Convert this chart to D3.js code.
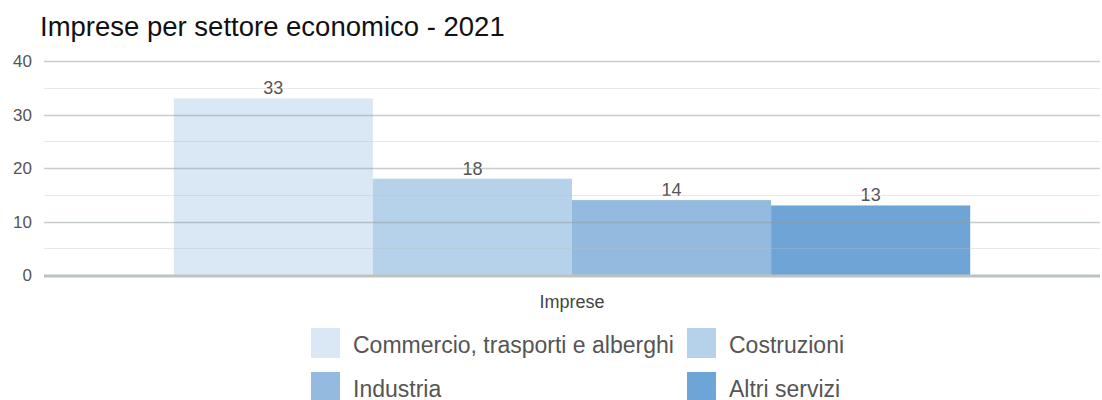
<!DOCTYPE html>
<html>
<head>
<meta charset="utf-8">
<script src="https://cdn.jsdelivr.net/npm/d3@7"></script>
<style>
  body { margin: 0; background: #fff; }
  svg { display: block; font-family: "Liberation Sans", Arial, sans-serif; }
</style>
</head>
<body>
<div id="chart"></div>
<script>
var title = "Imprese per settore economico - 2021";
var category = "Imprese";
var series = ["Commercio, trasporti e alberghi", "Costruzioni", "Industria", "Altri servizi"];
var values = [33, 18, 14, 13];
var colors = ["#dae7f4", "#b6d1ea", "#94badf", "#6fa4d6"];
var yTicks = [0, 10, 20, 30, 40];
var yMinor = [5, 15, 25, 35];

var width = 1102, height = 400;
var marginLeft = 44, marginRight = 2, marginTop = 61, plotBottom = 275;

var svg = d3.select("#chart").append("svg")
    .attr("width", width)
    .attr("height", height);

svg.append("text")
    .attr("x", 40)
    .attr("y", 36)
    .attr("font-size", "27.5px")
    .attr("fill", "#111")
    .text(title);

var y = d3.scaleLinear()
    .domain([0, 40])
    .range([plotBottom, marginTop]);

var xOuter = d3.scaleBand()
    .domain([category])
    .range([marginLeft, width - marginRight])
    .paddingInner(0)
    .paddingOuter(0.163);

var xInner = d3.scaleBand()
    .domain(series)
    .range([0, xOuter.bandwidth()]);

// bars
var g = svg.append("g").attr("transform", "translate(" + xOuter(category) + ",0)");
g.selectAll("rect")
    .data(values)
    .enter()
    .append("rect")
    .attr("x", function(d, i) { return xInner(series[i]); })
    .attr("y", function(d) { return y(d); })
    .attr("width", xInner.bandwidth())
    .attr("height", function(d) { return plotBottom - y(d); })
    .attr("fill", function(d, i) { return colors[i]; });

// gridlines drawn on top, semi transparent
svg.append("g").selectAll("line.minor")
    .data(yMinor)
    .enter()
    .append("line")
    .attr("x1", marginLeft).attr("x2", width - marginRight)
    .attr("y1", function(d) { return Math.round(y(d)) + 0.5; })
    .attr("y2", function(d) { return Math.round(y(d)) + 0.5; })
    .attr("stroke", "#b8bfbf")
    .attr("stroke-opacity", 0.35);

svg.append("g").selectAll("line.major")
    .data(yTicks.filter(function(t) { return t > 0; }))
    .enter()
    .append("line")
    .attr("x1", marginLeft).attr("x2", width - marginRight)
    .attr("y1", function(d) { return Math.round(y(d)) + 0.5; })
    .attr("y2", function(d) { return Math.round(y(d)) + 0.5; })
    .attr("stroke", "#8d9b9b")
    .attr("stroke-opacity", 0.5)
    .attr("stroke-width", 1.3);

svg.append("line")
    .attr("x1", marginLeft).attr("x2", width - marginRight)
    .attr("y1", y(0) + 1).attr("y2", y(0) + 1)
    .attr("stroke", "#bcc4c1")
    .attr("stroke-width", 3);

// y tick labels
svg.append("g").selectAll("text")
    .data(yTicks)
    .enter()
    .append("text")
    .attr("x", 32)
    .attr("y", function(d) { return y(d) + 6; })
    .attr("text-anchor", "end")
    .attr("font-size", "17px")
    .attr("fill", "#555")
    .text(function(d) { return d; });

// value labels
g.selectAll("text")
    .data(values)
    .enter()
    .append("text")
    .attr("x", function(d, i) { return xInner(series[i]) + xInner.bandwidth() / 2; })
    .attr("y", function(d) { return y(d) - 4; })
    .attr("text-anchor", "middle")
    .attr("font-size", "18px")
    .attr("fill", "#555")
    .text(function(d) { return d; });

// category label
svg.append("text")
    .attr("x", xOuter(category) + xOuter.bandwidth() / 2)
    .attr("y", 308)
    .attr("text-anchor", "middle")
    .attr("font-size", "18px")
    .attr("fill", "#444")
    .text(category);

// legend
var legendCols = [311, 687];
var legendRows = [328, 372];
var legend = svg.append("g").selectAll("g")
    .data(series)
    .enter()
    .append("g")
    .attr("transform", function(d, i) {
        return "translate(" + legendCols[i % 2] + "," + legendRows[Math.floor(i / 2)] + ")";
    });
legend.append("rect")
    .attr("width", 29)
    .attr("height", 30)
    .attr("fill", function(d, i) { return colors[i]; });
legend.append("text")
    .attr("x", 42)
    .attr("y", 25)
    .attr("font-size", "23px")
    .attr("fill", "#555")
    .text(function(d) { return d; });
</script>
</body>
</html>
